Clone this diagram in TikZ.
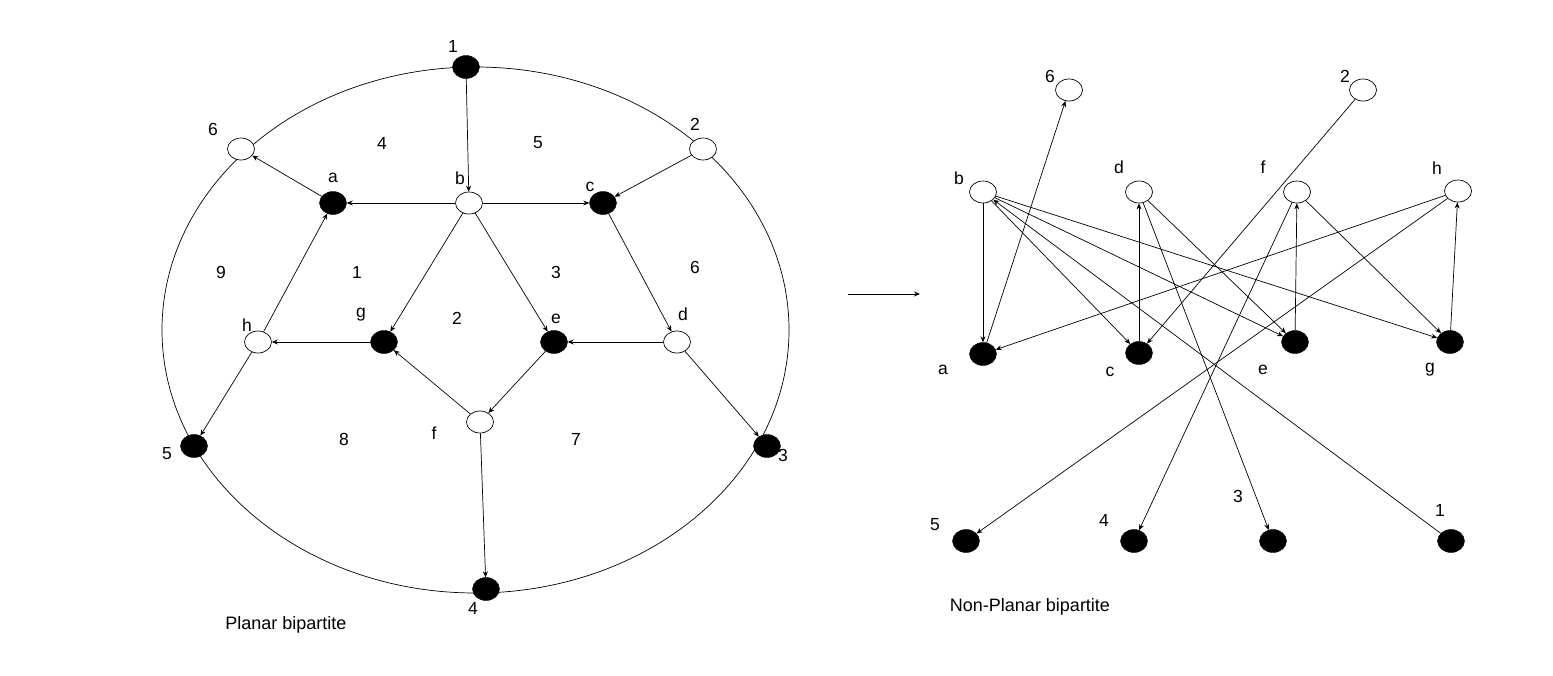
\documentclass[tikz,border=0pt]{standalone}
\usepackage{fontspec}
\setmainfont{Liberation Sans}
\usetikzlibrary{shapes,arrows,arrows.meta,positioning,shapes.geometric}

\begin{document}
\begin{tikzpicture}[
    x=1pt, y=-1pt,
    wnode/.style={ellipse, draw=black, fill=white, minimum width=27pt, minimum height=22pt, inner sep=0pt, line width=0.7pt},
    bnode/.style={ellipse, draw=black, fill=black, minimum width=27pt, minimum height=23pt, inner sep=0pt},
    lbl/.style={font=\fontsize{17.5}{20}\selectfont, inner sep=0pt},
    title/.style={font=\fontsize{18}{22}\selectfont, inner sep=0pt},
    arrow/.style={->,>={Stealth[length=6pt,width=5pt]}, line width=0.7pt},
    rim/.style={line width=0.7pt}
]
\useasboundingbox (0,0) rectangle (1553,675);

% 左图：外圈
\coordinate (ctr) at (475.5,330);
\draw [rim] (ctr) ellipse [x radius=313.5pt, y radius=263pt];

% 左图：顶点
\node (L1) [bnode] at (466,67) {};
\node (L2) [wnode] at (703,149) {};
\node (L3) [bnode] at (767,446) {};
\node (L4) [bnode] at (486,589) {};
\node (L5) [bnode] at (194,446) {};
\node (L6) [wnode] at (241,149) {};
\node (La) [bnode] at (333,203) {};
\node (Lb) [wnode] at (469,203) {};
\node (Lc) [bnode] at (603,203) {};
\node (Ld) [wnode] at (677,342) {};
\node (Le) [bnode] at (554,342) {};
\node (Lf) [wnode] at (480,422) {};
\node (Lg) [bnode] at (384,342) {};
\node (Lh) [wnode] at (258,342) {};

% 左图：边
\draw [arrow] (L1) -- (Lb);
\draw [arrow] (Lb) -- (La);
\draw [arrow] (Lb) -- (Lc);
\draw [arrow] (Lb) -- (Lg);
\draw [arrow] (Lb) -- (Le);
\draw [arrow] (La) -- (L6);
\draw [arrow] (L2) -- (Lc);
\draw [arrow] (Lc) -- (Ld);
\draw [arrow] (Ld) -- (Le);
\draw [arrow] (Ld) -- (L3);
\draw [arrow] (Le) -- (Lf);
\draw [arrow] (Lf) -- (Lg);
\draw [arrow] (Lf) -- (L4);
\draw [arrow] (Lg) -- (Lh);
\draw [arrow] (Lh) -- (La);
\draw [arrow] (Lh) -- (L5);

% 左图：顶点标签
\node (tL1) [lbl] at (453,46) {1};
\node (tL2) [lbl] at (695,124) {2};
\node (tL3) [lbl] at (783,455) {3};
\node (tL4) [lbl] at (473,608) {4};
\node (tL5) [lbl] at (167,454) {5};
\node (tL6) [lbl] at (213,129) {6};
\node (tLa) [lbl] at (333,178) {a};
\node (tLb) [lbl] at (460,178) {b};
\node (tLc) [lbl] at (590,187) {c};
\node (tLd) [lbl] at (683,314) {d};
\node (tLe) [lbl] at (556,319) {e};
\node (tLf) [lbl] at (434,433) {f};
\node (tLg) [lbl] at (361,315) {g};
\node (tLh) [lbl] at (247,325) {h};

% 左图：面编号
\node (F1) [lbl] at (357,272) {1};
\node (F2) [lbl] at (457,318) {2};
\node (F3) [lbl] at (556,272) {3};
\node (F4) [lbl] at (382,143) {4};
\node (F5) [lbl] at (538,143) {5};
\node (F6) [lbl] at (695,267) {6};
\node (F7) [lbl] at (576,439) {7};
\node (F8) [lbl] at (344,439) {8};
\node (F9) [lbl] at (221,272) {9};

\node (tleft) [title] at (286,625) {Planar bipartite};

% 中间箭头
\coordinate (mA) at (848,294);
\coordinate (mB) at (920,294);
\draw [arrow] (mA) -- (mB);

% 右图：顶点
\node (R6) [wnode] at (1069,90) {};
\node (R2) [wnode] at (1363,90) {};
\node (Rb) [wnode] at (983,192) {};
\node (Rd) [wnode] at (1139,192) {};
\node (Rf) [wnode] at (1297,192) {};
\node (Rh) [wnode] at (1458,191) {};
\node (Ra) [bnode] at (983,354) {};
\node (Rc) [bnode] at (1139,353) {};
\node (Re) [bnode] at (1295,342) {};
\node (Rg) [bnode] at (1450,342) {};
\node (R5) [bnode] at (966,541) {};
\node (R4) [bnode] at (1134,541) {};
\node (R3) [bnode] at (1273,541) {};
\node (R1) [bnode] at (1451,541) {};

% 右图：边
\draw [arrow] (Rb) -- (Ra);
\draw [arrow] (Ra) -- (R6);
\draw [arrow] (R1) -- (Rb);
\draw [arrow] (Rb) -- (Rc);
\draw [arrow] (Rb) -- (Re);
\draw [arrow] (Rb) -- (Rg);
\draw [arrow] (R2) -- (Rc);
\draw [arrow] (Rc) -- (Rd);
\draw [arrow] (Rd) -- (Re);
\draw [arrow] (Rd) -- (R3);
\draw [arrow] (Re) -- (Rf);
\draw [arrow] (Rf) -- (Rg);
\draw [arrow] (Rf) -- (R4);
\draw [arrow] (Rh) -- (Ra);
\draw [arrow] (Rh) -- (R5);
\draw [arrow] (Rg) -- (Rh);

% 右图：顶点标签
\node (tR6) [lbl] at (1050,76) {6};
\node (tR2) [lbl] at (1345,76) {2};
\node (tRb) [lbl] at (959,178) {b};
\node (tRd) [lbl] at (1119,167) {d};
\node (tRf) [lbl] at (1263,167) {f};
\node (tRh) [lbl] at (1437,168) {h};
\node (tRa) [lbl] at (943,370) {a};
\node (tRc) [lbl] at (1110,372) {c};
\node (tRe) [lbl] at (1263,370) {e};
\node (tRg) [lbl] at (1430,370) {g};
\node (tR5) [lbl] at (935,525) {5};
\node (tR4) [lbl] at (1104,520) {4};
\node (tR3) [lbl] at (1238,496) {3};
\node (tR1) [lbl] at (1440,510) {1};

\node (tright) [title] at (1030,607) {Non-Planar bipartite};

\end{tikzpicture}
\end{document}
